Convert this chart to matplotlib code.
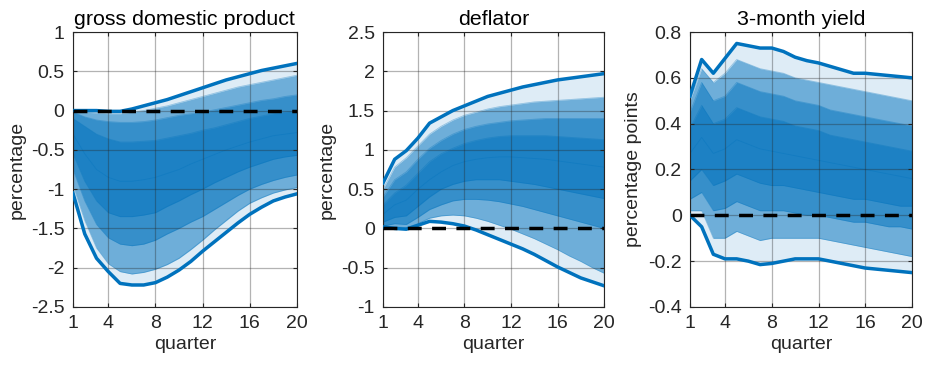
import numpy as np
import matplotlib
matplotlib.use('Agg')
import matplotlib.pyplot as plt

plt.rcParams['font.family'] = ['Liberation Sans', 'DejaVu Sans']

quarters = np.arange(1, 21)
xticks = [1, 4, 8, 12, 16, 20]

# gross domestic product
gdp_upper = [0.0, 0.0, 0.0, -0.01, -0.01, 0.02, 0.06, 0.1, 0.14, 0.19, 0.24, 0.29, 0.34, 0.39, 0.43, 0.47, 0.51, 0.54, 0.57, 0.6]
gdp_lower = [-1.05, -1.57, -1.88, -2.05, -2.2, -2.22, -2.22, -2.19, -2.12, -2.03, -1.92, -1.79, -1.67, -1.55, -1.43, -1.32, -1.23, -1.15, -1.1, -1.06]
gdp_p975 = [0.0, -0.02, -0.03, -0.04, -0.04, -0.02, 0.0, 0.03, 0.06, 0.1, 0.14, 0.18, 0.22, 0.26, 0.3, 0.33, 0.36, 0.39, 0.42, 0.45]
gdp_p90 = [-0.02, -0.08, -0.12, -0.14, -0.15, -0.15, -0.14, -0.12, -0.09, -0.06, -0.04, -0.02, 0.01, 0.04, 0.07, 0.1, 0.13, 0.15, 0.18, 0.2]
gdp_p75 = [-0.1, -0.2, -0.3, -0.36, -0.4, -0.4, -0.39, -0.38, -0.35, -0.32, -0.29, -0.25, -0.22, -0.18, -0.14, -0.1, -0.07, -0.04, -0.02, 0.0]
gdp_p50 = [-0.3, -0.55, -0.75, -0.85, -0.9, -0.9, -0.88, -0.85, -0.8, -0.75, -0.68, -0.62, -0.56, -0.5, -0.45, -0.4, -0.36, -0.32, -0.3, -0.28]
gdp_p25 = [-0.55, -0.9, -1.15, -1.3, -1.35, -1.35, -1.33, -1.3, -1.22, -1.15, -1.07, -1.0, -0.92, -0.85, -0.78, -0.72, -0.67, -0.62, -0.59, -0.57]
gdp_p10 = [-0.75, -1.15, -1.45, -1.62, -1.7, -1.72, -1.7, -1.65, -1.57, -1.5, -1.42, -1.35, -1.26, -1.17, -1.08, -1.0, -0.94, -0.89, -0.85, -0.82]
gdp_p025 = [-0.95, -1.4, -1.75, -1.95, -2.05, -2.08, -2.06, -2.02, -1.96, -1.88, -1.77, -1.65, -1.52, -1.4, -1.28, -1.18, -1.11, -1.05, -1.01, -0.98]

# deflator
dfl_upper = [0.58, 0.88, 0.99, 1.15, 1.34, 1.42, 1.5, 1.56, 1.62, 1.68, 1.72, 1.76, 1.8, 1.83, 1.86, 1.89, 1.91, 1.93, 1.95, 1.97]
dfl_lower = [0.02, 0.0, -0.01, 0.04, 0.09, 0.08, 0.06, 0.03, -0.02, -0.08, -0.14, -0.2, -0.26, -0.33, -0.41, -0.49, -0.56, -0.63, -0.68, -0.73]
dfl_p975 = [0.5, 0.78, 0.9, 1.05, 1.2, 1.3, 1.38, 1.44, 1.48, 1.52, 1.55, 1.57, 1.59, 1.61, 1.62, 1.63, 1.64, 1.65, 1.66, 1.67]
dfl_p90 = [0.4, 0.62, 0.72, 0.88, 1.02, 1.12, 1.2, 1.26, 1.3, 1.33, 1.35, 1.37, 1.38, 1.39, 1.4, 1.4, 1.4, 1.4, 1.4, 1.4]
dfl_p75 = [0.3, 0.45, 0.55, 0.7, 0.85, 0.95, 1.02, 1.08, 1.12, 1.15, 1.17, 1.18, 1.18, 1.18, 1.18, 1.17, 1.16, 1.15, 1.14, 1.13]
dfl_p50 = [0.18, 0.3, 0.36, 0.5, 0.62, 0.72, 0.8, 0.85, 0.88, 0.9, 0.91, 0.91, 0.9, 0.89, 0.88, 0.86, 0.84, 0.82, 0.8, 0.78]
dfl_p25 = [0.08, 0.14, 0.16, 0.28, 0.4, 0.5, 0.56, 0.6, 0.62, 0.62, 0.62, 0.6, 0.58, 0.56, 0.53, 0.5, 0.47, 0.44, 0.41, 0.38]
dfl_p10 = [0.03, 0.06, 0.05, 0.14, 0.24, 0.3, 0.35, 0.37, 0.37, 0.36, 0.34, 0.31, 0.28, 0.24, 0.2, 0.16, 0.12, 0.08, 0.04, 0.0]
dfl_p025 = [0.01, 0.02, 0.01, 0.06, 0.13, 0.16, 0.17, 0.16, 0.13, 0.09, 0.04, -0.01, -0.07, -0.13, -0.2, -0.27, -0.35, -0.42, -0.5, -0.57]

# 3-month yield
yld_upper = [0.52, 0.68, 0.62, 0.685, 0.75, 0.74, 0.73, 0.73, 0.715, 0.69, 0.675, 0.665, 0.65, 0.635, 0.62, 0.62, 0.615, 0.61, 0.605, 0.6]
yld_lower = [0.0, -0.05, -0.17, -0.19, -0.19, -0.2, -0.215, -0.21, -0.2, -0.19, -0.19, -0.19, -0.2, -0.21, -0.22, -0.23, -0.235, -0.24, -0.245, -0.25]
yld_p975 = [0.5, 0.64, 0.58, 0.62, 0.68, 0.66, 0.64, 0.63, 0.62, 0.6, 0.59, 0.58, 0.57, 0.56, 0.55, 0.54, 0.53, 0.52, 0.51, 0.5]
yld_p90 = [0.45, 0.58, 0.5, 0.52, 0.58, 0.56, 0.54, 0.53, 0.52, 0.5, 0.49, 0.48, 0.46, 0.45, 0.44, 0.43, 0.42, 0.41, 0.4, 0.39]
yld_p75 = [0.38, 0.48, 0.4, 0.42, 0.47, 0.45, 0.43, 0.42, 0.41, 0.39, 0.38, 0.37, 0.35, 0.34, 0.33, 0.32, 0.31, 0.3, 0.29, 0.28]
yld_p50 = [0.27, 0.34, 0.27, 0.29, 0.33, 0.31, 0.29, 0.28, 0.27, 0.26, 0.25, 0.24, 0.23, 0.22, 0.21, 0.2, 0.19, 0.18, 0.17, 0.16]
yld_p25 = [0.15, 0.2, 0.13, 0.15, 0.18, 0.16, 0.14, 0.13, 0.13, 0.12, 0.11, 0.1, 0.09, 0.08, 0.07, 0.07, 0.06, 0.05, 0.04, 0.04]
yld_p10 = [0.07, 0.1, 0.02, 0.03, 0.06, 0.04, 0.02, 0.02, 0.02, 0.01, 0.0, 0.0, -0.01, -0.02, -0.03, -0.03, -0.04, -0.05, -0.05, -0.06]
yld_p025 = [0.02, 0.02, -0.1, -0.1, -0.07, -0.09, -0.11, -0.1, -0.1, -0.1, -0.1, -0.1, -0.11, -0.12, -0.13, -0.14, -0.15, -0.16, -0.17, -0.18]

blue = '#0072BD'
dark = '#262626'


def draw_panel(ax, title, ylabel, ylim, yticks, ytlabels, upper, lower, pct):
    p025, p10, p25, p50, p75, p90, p975 = pct
    # sparse tails, then denser inner bands
    ax.fill_between(quarters, lower, upper, color=blue, alpha=0.13, lw=0)
    ax.fill_between(quarters, p025, p975, color=blue, alpha=0.5, lw=0)
    ax.fill_between(quarters, p10, p90, color=blue, alpha=0.5, lw=0)
    ax.fill_between(quarters, p25, p75, color=blue, alpha=0.45, lw=0)
    for curve in pct:
        ax.plot(quarters, curve, color=blue, lw=0.6, alpha=0.35)
    ax.plot(quarters, upper, color=blue, lw=2.5, zorder=4)
    ax.plot(quarters, lower, color=blue, lw=2.5, zorder=4)
    ax.plot([1, 20], [0, 0], color='black', lw=2.5, ls=(0, (4, 3)), zorder=5)

    ax.set_xlim(1, 20)
    ax.set_ylim(ylim)
    ax.set_xticks(xticks)
    ax.set_yticks(yticks)
    ax.set_yticklabels(ytlabels)
    ax.grid(True, color=dark, alpha=0.35, lw=0.9)
    ax.set_axisbelow(False)
    ax.tick_params(direction='in', length=3, width=0.8, colors=dark,
                   labelsize=14, top=True, right=True, pad=6)
    for s in ax.spines.values():
        s.set_color(dark)
        s.set_linewidth(0.8)
    ax.set_title(title, fontsize=15.4, color='black', pad=5)
    ax.set_ylabel(ylabel, fontsize=14, color=dark, labelpad=4)
    ax.set_xlabel('quarter', fontsize=14, color=dark, labelpad=3)


def main():
    fig = plt.figure(figsize=(9.27, 3.70), dpi=100)
    ax1 = fig.add_axes([0.0787, 0.1703, 0.2416, 0.7432])
    ax2 = fig.add_axes([0.4132, 0.1703, 0.2384, 0.7432])
    ax3 = fig.add_axes([0.7443, 0.1703, 0.2395, 0.7432])

    draw_panel(ax1, 'gross domestic product', 'percentage', (-2.5, 1),
               np.arange(-2.5, 1.01, 0.5),
               ['-2.5', '-2', '-1.5', '-1', '-0.5', '0', '0.5', '1'],
               gdp_upper, gdp_lower,
               [gdp_p025, gdp_p10, gdp_p25, gdp_p50, gdp_p75, gdp_p90, gdp_p975])
    draw_panel(ax2, 'deflator', 'percentage', (-1, 2.5),
               np.arange(-1, 2.51, 0.5),
               ['-1', '-0.5', '0', '0.5', '1', '1.5', '2', '2.5'],
               dfl_upper, dfl_lower,
               [dfl_p025, dfl_p10, dfl_p25, dfl_p50, dfl_p75, dfl_p90, dfl_p975])
    draw_panel(ax3, '3-month yield', 'percentage points', (-0.4, 0.8),
               np.arange(-0.4, 0.81, 0.2),
               ['-0.4', '-0.2', '0', '0.2', '0.4', '0.6', '0.8'],
               yld_upper, yld_lower,
               [yld_p025, yld_p10, yld_p25, yld_p50, yld_p75, yld_p90, yld_p975])

    fig.savefig('out.png', dpi=100)
    plt.close('all')


if __name__ == '__main__':
    main()
